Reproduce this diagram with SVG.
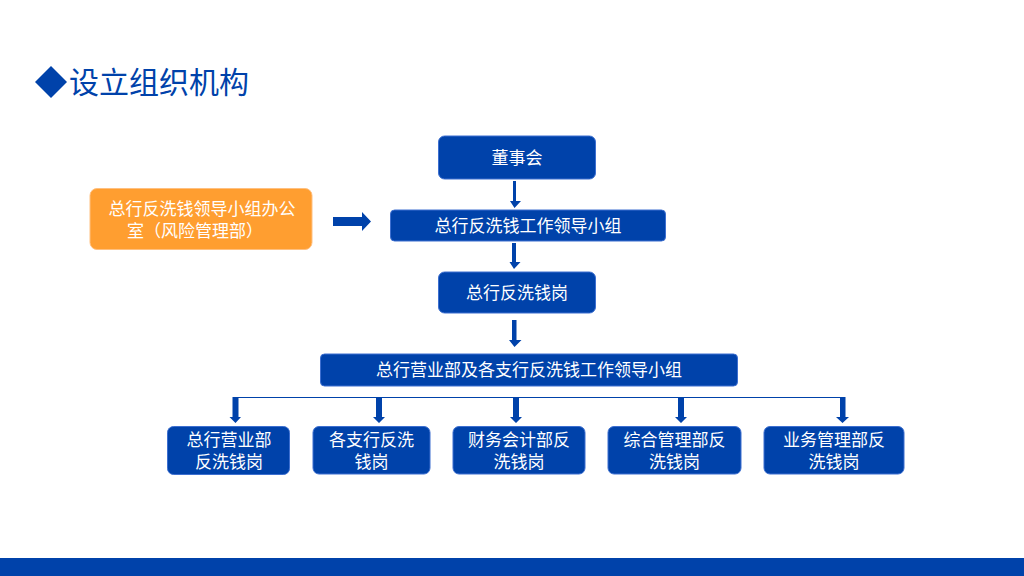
<svg xmlns="http://www.w3.org/2000/svg" width="1024" height="576" viewBox="0 0 1024 576">
<style>
.box{fill:#0042AA;stroke:#3D6FD0;stroke-width:1}
.org{fill:#FF9E30;stroke:#FFC080;stroke-width:1}
.t{fill:#FFFFFF;font-family:"Liberation Sans","Noto Sans CJK SC",sans-serif;font-size:17px;text-anchor:middle}
.ttl{fill:#0042AA;font-family:"Liberation Sans","Noto Sans CJK SC",sans-serif;font-size:30px}
.arr{fill:#0042AA}
</style>
<rect x="0" y="0" width="1024" height="576" fill="#FFFFFF"/>
<g id="title">
<polygon points="51,66 67,82 51,98 35,82" fill="#0042AA"/>
<text class="ttl" x="69" y="93">设立组织机构</text>
</g>
<g id="connectors">
<polygon class="arr" points="513,181 516,181 516,201 521,201 514.5,208 510,201 513,201"/>
<polygon class="arr" points="512,243 516,243 516,262 520.5,262 514,269 509.5,262 512,262"/>
<polygon class="arr" points="512,320 516.5,320 516.5,340 521.5,340 514.5,347 509,340 512,340"/>
<polygon class="arr" points="333,217 362,217 362,212 371,221.5 362,231 362,226 333,226"/>
<path d="M236,397.5 H843" stroke="#0042AA" stroke-width="1.2" fill="none"/>
<polygon class="arr" points="232.5,397 238.5,397 238.5,417 241,417 235.5,423 229.5,417 232.5,417"/>
<polygon class="arr" points="376,397 382,397 382,417 385,417 379,423 373,417 376,417"/>
<polygon class="arr" points="513,397 519,397 519,417 522,417 516,423 510,417 513,417"/>
<polygon class="arr" points="678,397 684,397 684,417 687,417 681,423 675,417 678,417"/>
<polygon class="arr" points="840,397 845.5,397 845.5,417 849,417 842.5,423 836,417 840,417"/>
</g>
<g id="n-board">
<rect class="box" x="438.5" y="136" width="157" height="43" rx="6"/>
<text class="t" x="517" y="164">董事会</text>
</g>
<g id="n-office">
<rect class="org" x="90" y="188.5" width="222" height="61" rx="7"/>
<text class="t" x="202" y="215">总行反洗钱领导小组办公</text>
<text class="t" x="195" y="237">室（风险管理部）</text>
</g>
<g id="n-group">
<rect class="box" x="390.5" y="210" width="275" height="31" rx="4"/>
<text class="t" x="528" y="232">总行反洗钱工作领导小组</text>
</g>
<g id="n-post">
<rect class="box" x="438.5" y="272" width="157" height="41" rx="6"/>
<text class="t" x="517" y="299">总行反洗钱岗</text>
</g>
<g id="n-branch-group">
<rect class="box" x="320.5" y="354" width="417" height="32" rx="4"/>
<text class="t" x="529" y="376">总行营业部及各支行反洗钱工作领导小组</text>
</g>
<g id="n-b1">
<rect class="box" x="167.5" y="426.5" width="122" height="48" rx="6"/>
<text class="t" x="229" y="446">总行营业部</text>
<text class="t" x="229" y="468">反洗钱岗</text>
</g>
<g id="n-b2">
<rect class="box" x="313" y="426.5" width="117" height="47.5" rx="6"/>
<text class="t" x="371.5" y="446">各支行反洗</text>
<text class="t" x="371.5" y="468">钱岗</text>
</g>
<g id="n-b3">
<rect class="box" x="453" y="426.5" width="132" height="47.5" rx="6"/>
<text class="t" x="519" y="446">财务会计部反</text>
<text class="t" x="519" y="468">洗钱岗</text>
</g>
<g id="n-b4">
<rect class="box" x="608" y="426.5" width="133" height="47.5" rx="6"/>
<text class="t" x="674.5" y="446">综合管理部反</text>
<text class="t" x="674.5" y="468">洗钱岗</text>
</g>
<g id="n-b5">
<rect class="box" x="764" y="426.5" width="140" height="47.5" rx="6"/>
<text class="t" x="834" y="446">业务管理部反</text>
<text class="t" x="834" y="468">洗钱岗</text>
</g>
<rect x="0" y="558" width="1024" height="18" fill="#0042AA"/>
</svg>
